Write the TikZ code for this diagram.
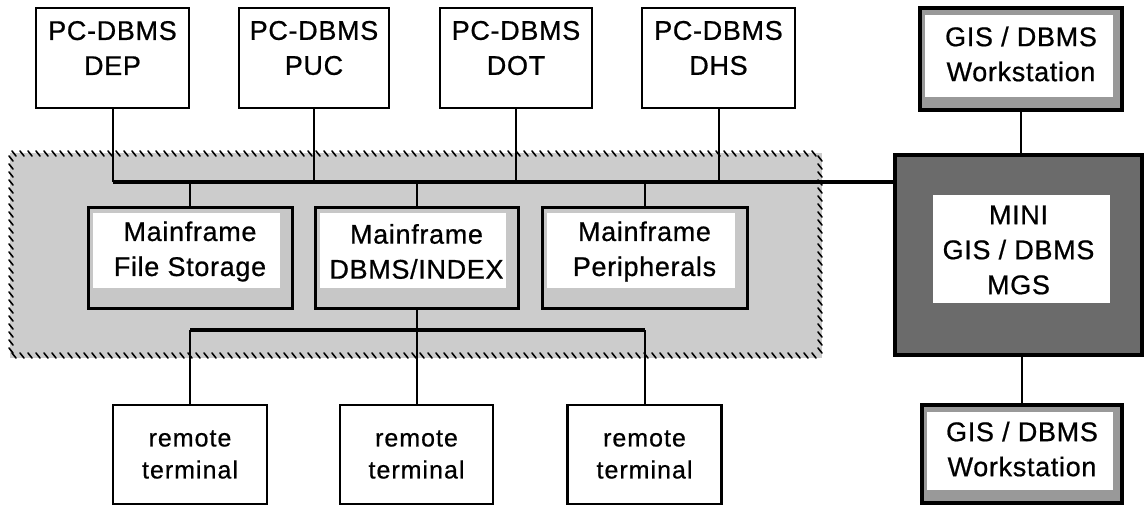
\documentclass[tikz,border=0pt]{standalone}
\usepackage{fontspec}
\setmainfont{Liberation Sans}[FakeBold=0.6]
\newfontfamily\boxfont{Liberation Sans}[LetterSpace=2.5,FakeBold=0.7]
\newfontfamily\termfont{Liberation Sans}[LetterSpace=4,FakeBold=0.6]
\begin{document}
\begin{tikzpicture}[x=1pt,y=-1pt,
  txt/.style={font=\boxfont\fontsize{27}{35}\selectfont, align=center, inner sep=0pt},
  ttxt/.style={font=\termfont\fontsize{25}{32}\selectfont, align=center, inner sep=0pt},
  plain/.style={draw=black, line width=2.6pt, fill=white, rectangle},
  framebox/.style={draw=black, line width=3pt, fill=black!22, rectangle},
  wsbox/.style={draw=black, line width=3.4pt, fill=black!40, rectangle},
  minibox/.style={draw=black, line width=4pt, fill=black!58, rectangle},
  boxtext/.style 2 args={label={[txt, yshift=#1pt]center:#2}},
  termtext/.style={label={[ttxt]center:#1}},
  inner/.style n args={4}{path picture={\fill[white]
     ([shift={(#1pt,-#2pt)}]path picture bounding box.north west) rectangle
     ([shift={(-#3pt,#4pt)}]path picture bounding box.south east);}},
  conn/.style={line width=2pt},
  bus/.style={line width=4pt},
  tick/.style={line width=1.6pt, line cap=round}
]
\useasboundingbox (0,0) rectangle (1145,506);
% shaded mainframe region
\fill[black!20] (10,153) rectangle (822,358);
\foreach \x in {12,20,...,818} {\draw[tick] (\x,151) -- (\x+4,156); \draw[tick] (\x,353) -- (\x+4,358);}
\foreach \y in {156,164,...,352} {\draw[tick] (9,\y) -- (13,\y+5); \draw[tick] (818,\y) -- (822,\y+5);}

% PC boxes
\node[plain, minimum width=153pt, minimum height=100pt, boxtext={10}{PC-DBMS\\DEP}] (dep) at (112.5,58) {};
\node[plain, minimum width=150pt, minimum height=100pt, boxtext={10}{PC-DBMS\\PUC}] (puc) at (314,58) {};
\node[plain, minimum width=152pt, minimum height=100pt, boxtext={10}{PC-DBMS\\DOT}] (dot) at (516,58) {};
\node[plain, minimum width=153pt, minimum height=100pt, boxtext={10}{PC-DBMS\\DHS}] (dhs) at (718.5,58) {};

% Mainframe boxes
\node[framebox, inner={5}{6}{12}{20}, minimum width=204pt, minimum height=101pt, boxtext={6}{Mainframe\\File Storage}] (fs) at (190,257.5) {};
\node[framebox, inner={5}{6}{12}{20}, minimum width=203pt, minimum height=101pt, boxtext={6}{Mainframe\\DBMS/INDEX}] (di) at (416.5,257.5) {};
\node[framebox, inner={5}{6}{12}{20}, minimum width=205pt, minimum height=101pt, boxtext={6}{Mainframe\\Peripherals}] (pe) at (644.5,257.5) {};

% remote terminals
\node[plain, minimum width=154pt, minimum height=99pt, termtext={remote\\terminal}] (t1) at (190,454.5) {};
\node[plain, minimum width=153pt, minimum height=99pt, termtext={remote\\terminal}] (t2) at (416.5,454.5) {};
\node[plain, minimum width=154pt, minimum height=99pt, termtext={remote\\terminal}] (t3) at (644.5,454.5) {};

% GIS side
\node[minibox, inner={38}{40}{32}{52}, minimum width=247pt, minimum height=200pt, boxtext={5}{MINI\\GIS / DBMS\\MGS}] (mini) at (1018.5,255) {};
\node[wsbox, inner={5}{7}{9}{13}, minimum width=202pt, minimum height=102pt, boxtext={5}{GIS / DBMS\\Workstation}] (ws1) at (1021,59) {};
\node[wsbox, inner={5}{7}{9}{13}, minimum width=200pt, minimum height=98pt, boxtext={5}{GIS / DBMS\\Workstation}] (ws2) at (1022,454) {};

\coordinate (busY) at (0,182);
\coordinate (lowY) at (0,330);

% upper bus
\draw[conn] (dep.south) -- (dep.south |- busY);
\draw[conn] (puc.south) -- (puc.south |- busY);
\draw[conn] (dot.south) -- (dot.south |- busY);
\draw[conn] (dhs.south) -- (dhs.south |- busY);
\draw[bus] (dep.south |- busY) -- (mini.west |- busY);
\draw[conn] (fs.north |- busY) -- (fs.north);
\draw[conn] (di.north |- busY) -- (di.north);
\draw[conn] (pe.north |- busY) -- (pe.north);

% lower bus
\draw[conn] (di.south) -- (di.south |- lowY);
\draw[bus] (t1.north |- lowY) -- (t3.north |- lowY);
\draw[conn] (t1.north |- lowY) -- (t1.north);
\draw[conn] (t2.north |- lowY) -- (t2.north);
\draw[conn] (t3.north |- lowY) -- (t3.north);

% GIS links
\draw[conn] (ws1.south) -- (ws1.south |- mini.north);
\draw[conn] (ws2.north) -- (ws2.north |- mini.south);
\end{tikzpicture}
\end{document}
